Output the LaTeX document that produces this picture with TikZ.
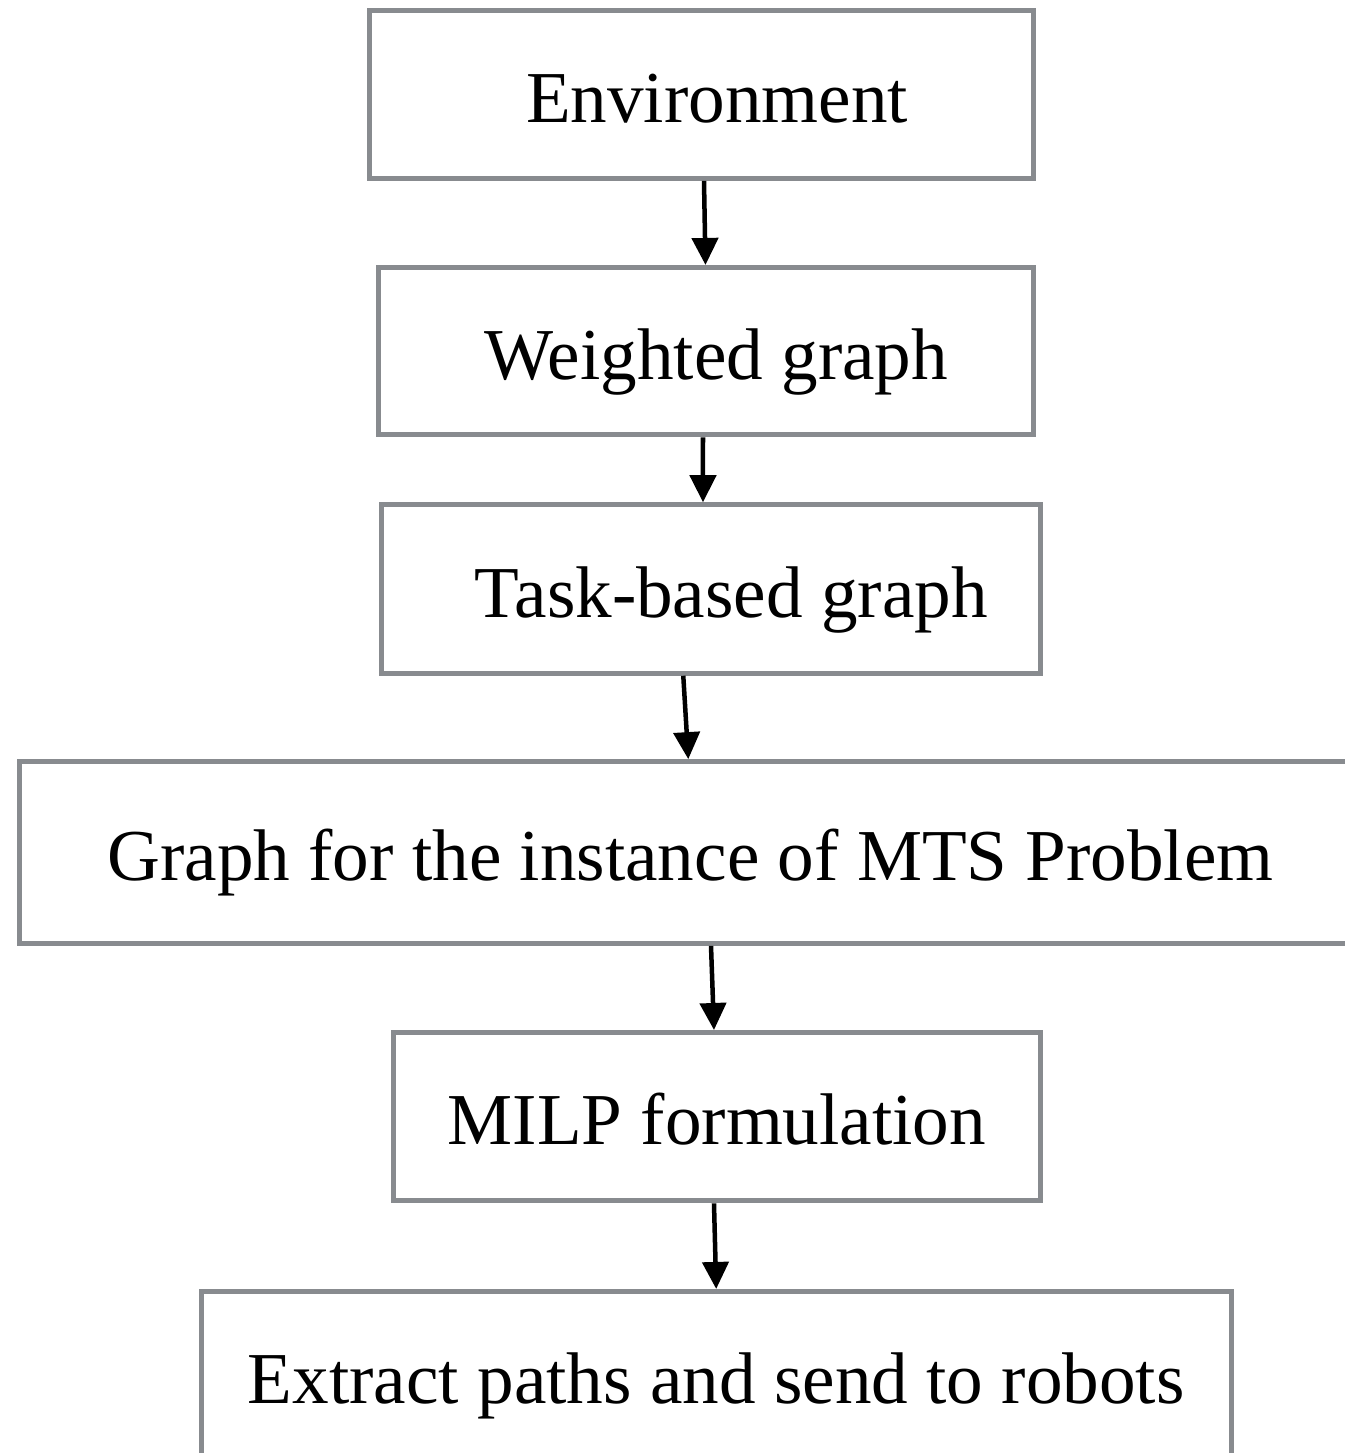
\documentclass[tikz,border=0pt]{standalone}
\usepackage{fontspec}
\setmainfont{Liberation Serif}
\usetikzlibrary{arrows.meta}
\definecolor{boxgray}{HTML}{888B8F}

\begin{document}
\begin{tikzpicture}[x=0.01cm, y=-0.01cm,
  box/.style={draw=boxgray, line width=0.05cm, fill=white, inner sep=0pt,
    text height=0.56cm, text depth=0cm, font=\fontsize{20.8}{25}\selectfont},
  arr/.style={line width=0.045cm, black, -{Triangle[length=0.27cm, width=0.26cm]}}]
  \useasboundingbox (0,0) rectangle (1345,1453);
  \node[box, minimum width=6.64cm, minimum height=1.677cm] (env) at (701.5,94.4) {\hspace*{0.31cm}Environment};
  \node[box, minimum width=6.548cm, minimum height=1.672cm] (wgraph) at (705.9,351.1) {\hspace*{0.21cm}Weighted graph};
  \node[box, minimum width=6.59cm, minimum height=1.684cm] (tgraph) at (711.3,589) {\hspace*{0.40cm}Task-based graph};
  \node[box, minimum width=13.414cm, minimum height=1.816cm] (mtsgraph) at (690.5,852.5) {Graph for the instance of MTS Problem};
  \node[box, minimum width=6.467cm, minimum height=1.683cm] (milp) at (716.9,1116.7) {MILP formulation};
  \node[box, minimum width=10.293cm, minimum height=1.68cm] (extract) at (716.2,1375.5) {Extract paths and send to robots};
  \draw[arr] ([xshift=0.025cm]env.south) -- ([xshift=-0.004cm]wgraph.north);
  \draw[arr] ([xshift=-0.029cm]wgraph.south) -- ([xshift=-0.083cm]tgraph.north);
  \draw[arr] ([xshift=-0.28cm]tgraph.south) -- ([xshift=-0.022cm]mtsgraph.north);
  \draw[arr] ([xshift=0.205cm]mtsgraph.south) -- ([xshift=-0.029cm]milp.north);
  \draw[arr] ([xshift=-0.029cm]milp.south) -- (extract.north);
\end{tikzpicture}
\end{document}
